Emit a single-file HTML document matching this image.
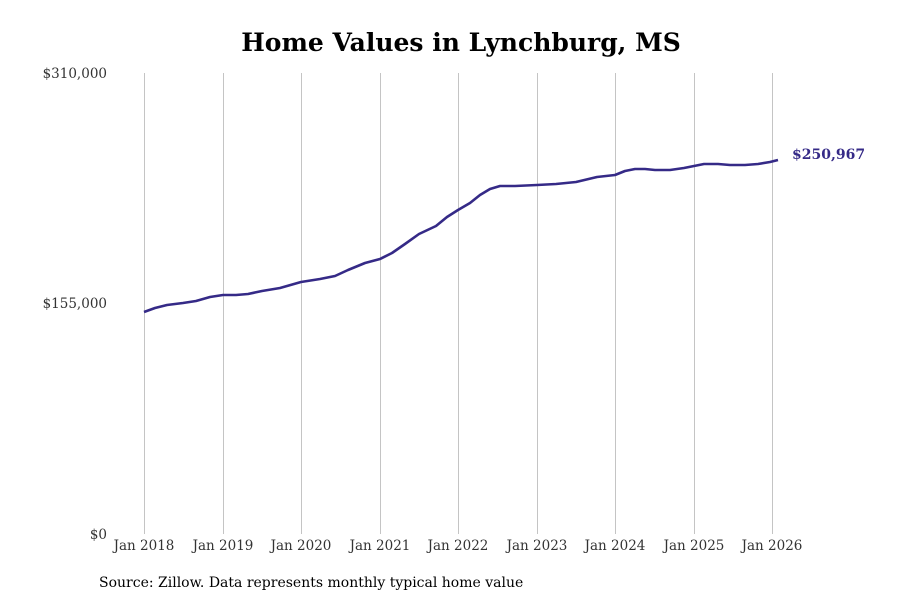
<!DOCTYPE html>
<html><head><style>
body{margin:0;background:#fff;}
svg{display:block;font-family:"DejaVu Serif",serif;}
</style></head><body>
<svg width="900" height="600" viewBox="0 0 900 600">
<text x="461" y="51" text-anchor="middle" font-size="25" font-weight="bold" fill="#000">Home Values in Lynchburg, MS</text>
<g stroke="#c4c4c4" stroke-width="1">
<line x1="144.5" y1="73" x2="144.5" y2="534"/>
<line x1="223.5" y1="73" x2="223.5" y2="534"/>
<line x1="301.5" y1="73" x2="301.5" y2="534"/>
<line x1="380.5" y1="73" x2="380.5" y2="534"/>
<line x1="458.5" y1="73" x2="458.5" y2="534"/>
<line x1="537.5" y1="73" x2="537.5" y2="534"/>
<line x1="615.5" y1="73" x2="615.5" y2="534"/>
<line x1="694.5" y1="73" x2="694.5" y2="534"/>
<line x1="772.5" y1="73" x2="772.5" y2="534"/>
</g>
<g font-size="13.5" fill="#333" text-anchor="end">
<text x="107" y="78">$310,000</text>
<text x="107" y="308">$155,000</text>
<text x="107" y="539">$0</text>
</g>
<g font-size="13.5" fill="#333" text-anchor="middle">
<text x="144" y="550">Jan 2018</text>
<text x="223" y="550">Jan 2019</text>
<text x="301" y="550">Jan 2020</text>
<text x="380" y="550">Jan 2021</text>
<text x="458" y="550">Jan 2022</text>
<text x="537" y="550">Jan 2023</text>
<text x="615" y="550">Jan 2024</text>
<text x="694" y="550">Jan 2025</text>
<text x="772" y="550">Jan 2026</text>
</g>
<polyline fill="none" stroke="#352a87" stroke-width="2.6" stroke-linejoin="round" points="144,312 155,308 167,305 183,303 196,301 210,297 223,295 236,295 248,294 262,291 280,288 301,282 320,279 335,276 348,270 365,263 380,259 392,253 405,244 419,234 436,226 447,217 458,210 470,203 480,195 490,189 500,186 515,186 537,185 556,184 576,182 597,177 615,175 625,171 635,169 645,169 655,170 670,170 684,168 694,166 704,164 718,164 730,165 745,165 758,164 770,162 778,160"/>
<text x="792" y="159" font-size="14" font-weight="bold" fill="#352a87">$250,967</text>
<text x="99" y="587" font-size="14" fill="#000">Source: Zillow. Data represents monthly typical home value</text>
</svg>
</body></html>
